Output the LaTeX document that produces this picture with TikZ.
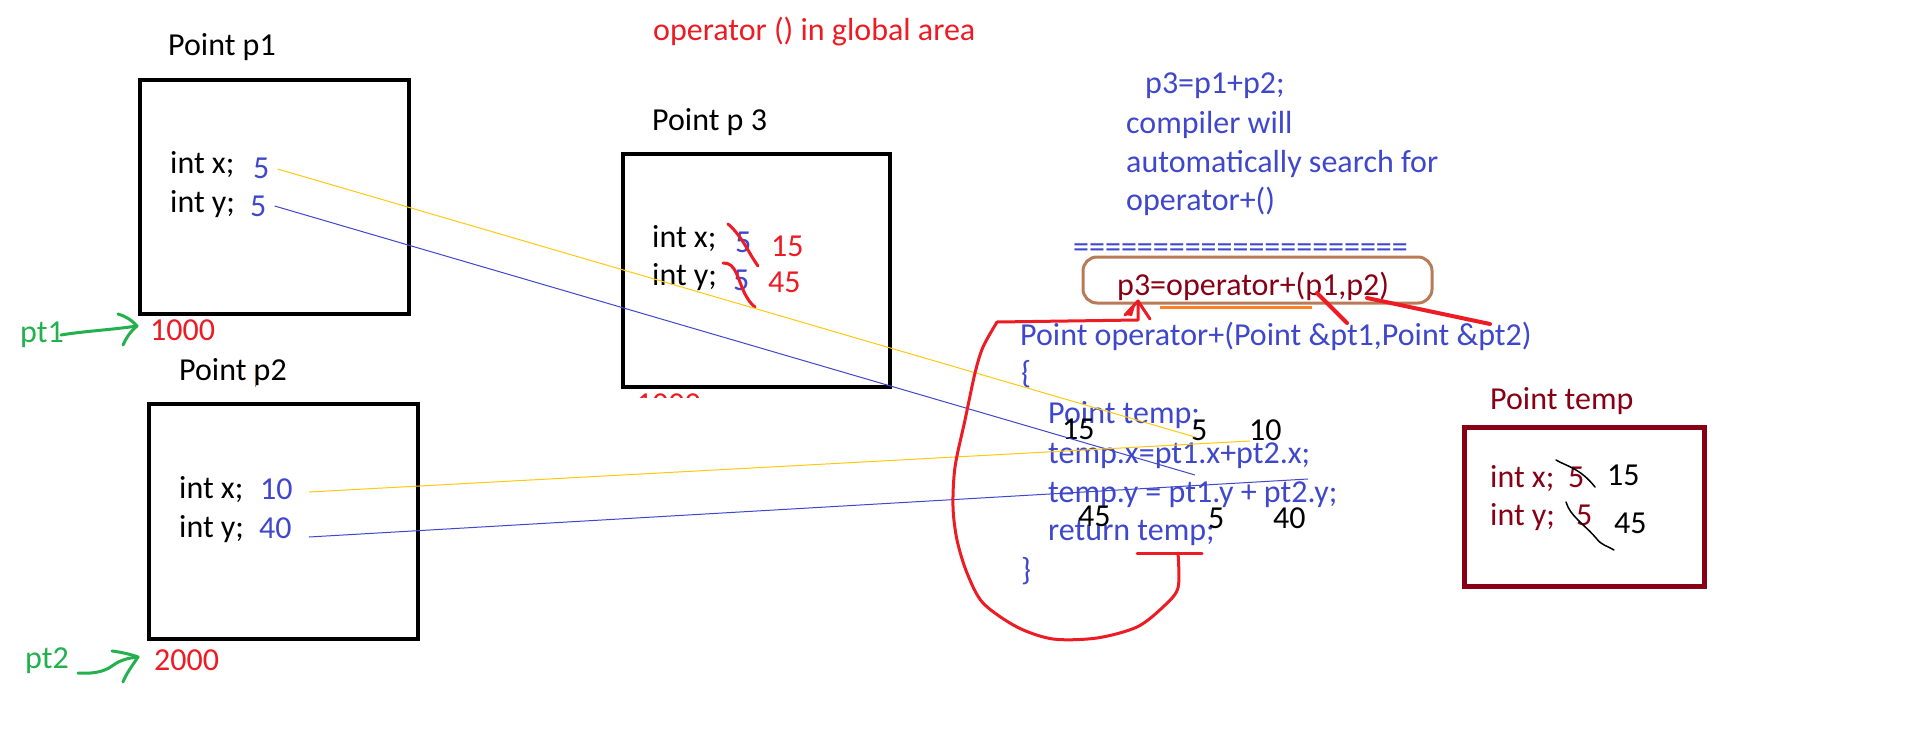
\documentclass[tikz,border=0pt]{standalone}
\usepackage{fontspec}
\setmainfont{Carlito}
\usetikzlibrary{calc}
\definecolor{pblue}{HTML}{3F48CC}
\definecolor{pred}{HTML}{ED1C24}
\definecolor{pdark}{HTML}{880015}
\definecolor{pgreen}{HTML}{22B14C}
\definecolor{pgold}{HTML}{FFC90E}
\definecolor{pbrown}{HTML}{B97A57}
\definecolor{porange}{HTML}{FF7F27}
\begin{document}
\begin{tikzpicture}[x=1pt,y=-1pt,
  txt/.style={anchor=base west,inner sep=0pt,font=\fontsize{32}{37}\selectfont},
  bluetxt/.style={txt,text=pblue},
  redtxt/.style={txt,text=pred},
  darktxt/.style={txt,text=pdark},
  greentxt/.style={txt,text=pgreen},
  memobox/.style={draw=black,line width=4pt},
  tempbox/.style={draw=pdark,line width=5pt},
  goldline/.style={draw=pgold,line width=1pt},
  blueline/.style={draw=pblue,line width=1pt},
  greenpen/.style={draw=pgreen,line width=3pt,line cap=round,line join=round},
  redpen/.style={draw=pred,line width=3pt,line cap=round,line join=round},
  blackpen/.style={draw=black,line width=1.5pt,line cap=round,line join=round}]
\useasboundingbox (0,0) rectangle (1914,734);
\fill[white] (0,0) rectangle (1914,734);

% title
\node[redtxt] (title) at (653,40) {operator () in global area};

% Point p1
\node[txt] (p1lbl) at (168,55) {Point p1};
\draw[memobox] (140,80) rectangle (409,314);
\node[txt] (p1x) at (170,173) {int x;};
\node[bluetxt] (p1xv) at (253,178) {5};
\node[txt] (p1y) at (170,212) {int y;};
\node[bluetxt] (p1yv) at (250,216) {5};
\node[greentxt] (pt1) at (20,342) {pt1};
\node[redtxt] (a1000) at (150,340) {1000};

% Point p2
\node[txt] (p2lbl) at (179,380) {Point p2};
\draw[pbrown,line width=1pt] (255,365) -- (255,387);
\draw[memobox] (149,404) rectangle (418,639);
\node[txt] (p2x) at (179,498) {int x;};
\node[bluetxt] (p2xv) at (260,499) {10};
\node[txt] (p2y) at (179,537) {int y;};
\node[bluetxt] (p2yv) at (259,538) {40};
\node[greentxt] (pt2) at (25,668) {pt2};
\node[redtxt] (a2000) at (154,670) {2000};

% Point p3
\begin{scope}
\clip (600,391) rectangle (720,397);
\node[redtxt] (a3000) at (636,414) {1000};
\end{scope}
\node[txt] (p3lbl) at (652,130) {Point p 3};
\draw[memobox] (623,154) rectangle (890,387);
\node[txt] (p3x) at (652,247) {int x;};
\node[bluetxt] (p3xold) at (735,252) {5};
\node[redtxt] (p3xv) at (771,256) {15};
\node[txt] (p3y) at (652,285) {int y;};
\node[bluetxt] (p3yold) at (733,290) {5};
\node[redtxt] (p3yv) at (768,292) {45};
\draw[redpen] (728,224) .. controls (742,236) and (748,252) .. (758,266);
\draw[redpen] (723,263) .. controls (736,262) and (738,280) .. (744,292) .. controls (748,300) and (751,304) .. (755,307);

% explanation
\node[bluetxt] (e1) at (1145,93) {p3=p1+p2;};
\node[bluetxt] (e2) at (1126,133) {compiler will};
\node[bluetxt] (e3) at (1126,172) {automatically search for};
\node[bluetxt] (e4) at (1126,210) {operator+()};
\node[bluetxt] (eq) at (1073,257) {=====================};

% call
\draw[porange,line width=3pt] (1160,307) -- (1312,307);
\draw[pbrown,line width=3pt,rounded corners=14pt] (1083,257) rectangle (1432,303);
\node[darktxt] (call) at (1117,295) {p3=operator+(p1,p2)};

% function
\node[bluetxt] (f0) at (1020,345) {Point operator+(Point \&pt1,Point \&pt2)};
\node[bluetxt] (f1) at (1021,383) {\{};
\node[bluetxt] (f2) at (1048,423) {Point temp;};
\node[bluetxt] (f3) at (1048,463) {temp.x=pt1.x+pt2.x;};
\node[bluetxt] (f4) at (1048,502) {temp.y = pt1.y + pt2.y;};
\node[bluetxt] (f5) at (1048,540) {return temp;};
\node[bluetxt] (f6) at (1021,580) {\}};

% black numbers
\node[txt] (n15) at (1062,439) {15};
\node[txt] (n5a) at (1191,440) {5};
\node[txt] (n10) at (1249,440) {10};
\node[txt] (n45) at (1078,526) {45};
\node[txt] (n5b) at (1208,528) {5};
\node[txt] (n40) at (1273,528) {40};

% Point temp
\node[darktxt] (tlbl) at (1490,409) {Point temp};
\draw[tempbox] (1464,427) rectangle (1704,586);
\node[darktxt] (tx) at (1490,487) {int x;};
\node[darktxt] (txold) at (1568,487) {5};
\node[txt] (txv) at (1607,485) {15};
\node[darktxt] (ty) at (1490,525) {int y;};
\node[darktxt] (tyold) at (1576,525) {5};
\node[txt] (tyv) at (1614,533) {45};
\draw[blackpen] (1556,460) .. controls (1566,466) and (1580,468) .. (1595,487);
\draw[blackpen] (1566,502) .. controls (1570,516) and (1584,524) .. (1596,538) .. controls (1602,546) and (1608,546) .. (1614,550);

% value lines
\coordinate (yend1) at (1195,437);
\coordinate (bend1) at (1195,475);
\coordinate (yend2) at (1250,441);
\coordinate (bend2) at (1308,479);
\draw[goldline] ($(p1xv.base east)+(8,-9)$) -- (yend1);
\draw[blueline] ($(p1yv.base east)+(8,-10)$) -- (bend1);
\draw[goldline] ($(p2xv.base east)+(16,-7)$) -- (yend2);
\draw[blueline] ($(p2yv.base east)+(17,-1)$) -- (bend2);

% green pointers
\coordinate (tip1) at ($(a1000.base west)+(-13,-14)$);
\coordinate (tip2) at ($(a2000.base west)+(-16,-13)$);
\draw[greenpen] ($(pt1.base east)+(-3,-7)$) .. controls (85,331) and (110,330) .. (tip1);
\draw[greenpen] (118,314) .. controls (125,316) and (132,320) .. (tip1) .. controls (130,332) and (126,338) .. (123,345);
\draw[greenpen] ($(pt2.base east)+(9,5)$) .. controls (92,674) and (104,672) .. (112,666) .. controls (120,660) and (128,658) .. (tip2);
\draw[greenpen] (112,651) .. controls (120,652) and (130,654) .. (tip2) .. controls (132,666) and (126,674) .. (123,682);

% red marks from call
\draw[redpen,line width=4pt] (1317,293) -- (1347,323);
\draw[redpen,line width=4pt] (1367,298) -- (1490,324);
\draw[redpen] (1137,553) -- (1202,553);
\draw[redpen] plot[smooth] coordinates {(1178,553) (1178,588) (1163,607) (1137,627) (1097,638) (1053,639) (1017,627) (983,603) (967,573) (957,540) (953,507) (955,467) (965,420) (975,373) (983,347) (997,322)};
\draw[redpen] (997,322) -- (1138,320) -- (1138,301);
\draw[redpen] (1125,315) -- (1138,301) -- (1150,319);
\fill[pred] (1125,315) -- (1136,302) -- (1132,316) -- cycle;
\end{tikzpicture}
\end{document}
